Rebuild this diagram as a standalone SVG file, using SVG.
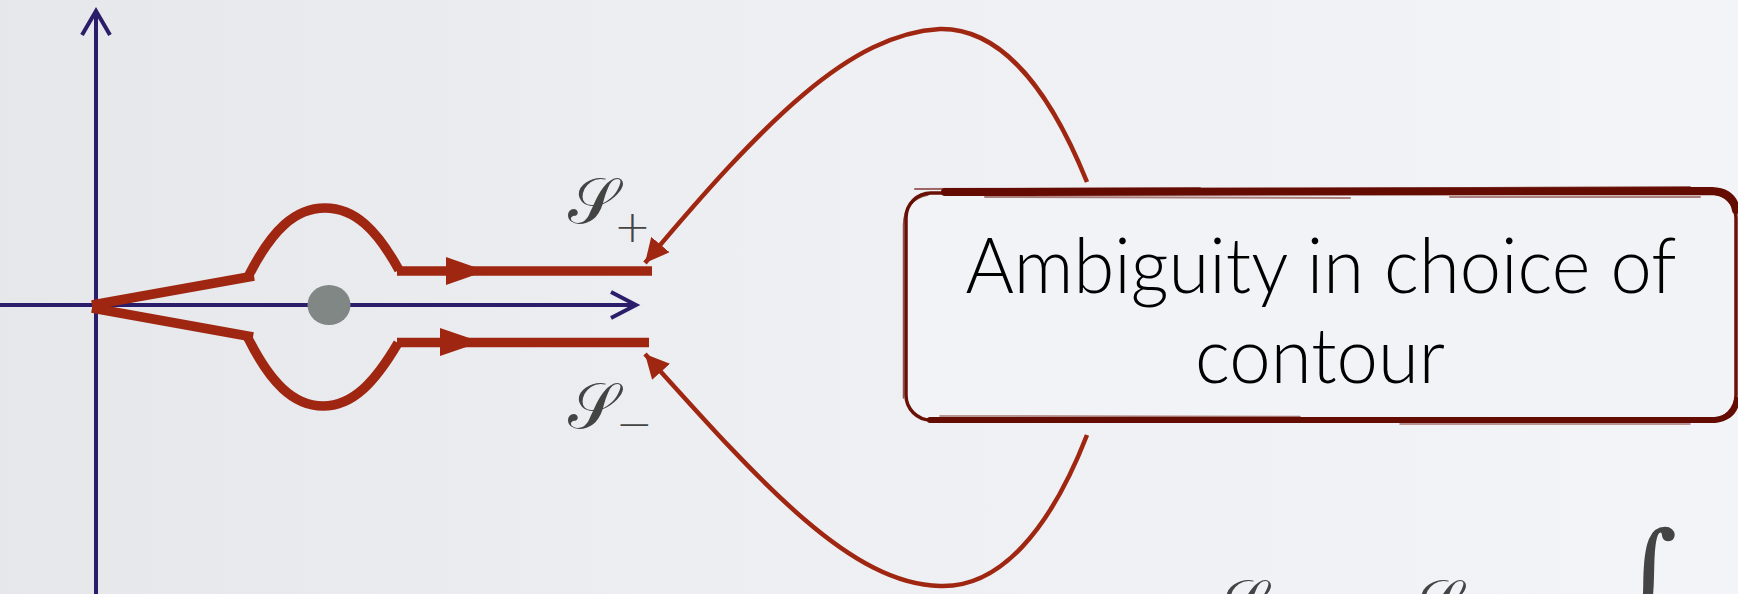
<svg xmlns="http://www.w3.org/2000/svg" width="1738" height="594" viewBox="0 0 1738 594">
  <defs>
    <linearGradient id="bg" x1="0" y1="0" x2="1" y2="0">
      <stop offset="0" stop-color="#e5e7eb"/>
      <stop offset="0.45" stop-color="#eeeff3"/>
      <stop offset="1" stop-color="#f3f4f8"/>
    </linearGradient>
    <marker id="connArrow" markerUnits="userSpaceOnUse" viewBox="0 0 24 24" refX="24" refY="12" markerWidth="24" markerHeight="24" orient="auto">
      <path d="M0,0 L24,12 L0,24 z" fill="#9f2711"/>
    </marker>
    <style>
      .axis { fill: none; stroke: #2c1d6b; stroke-width: 4; }
      .contour { fill: none; stroke: #9f2711; stroke-width: 9.5; stroke-linecap: butt; }
      .contourHead { fill: #9f2711; }
      .conn { fill: none; stroke: #9f2711; stroke-width: 4.5; }
      .lbl { font-family: "DejaVu Serif", "DejaVu Sans", "Noto Sans", serif; fill: #444444; }
      .sub { font-family: "DejaVu Sans", "Noto Sans", sans-serif; font-weight: 300; fill: #444444; }
      .boxText { font-family: Lato, "Open Sans", "Noto Sans", sans-serif; font-weight: 300; font-size: 76px; fill: #000000; text-anchor: middle; }
      .brush { fill: none; stroke: #640b02; stroke-linecap: round; }
    </style>
  </defs>

  <rect x="0" y="0" width="1738" height="594" fill="url(#bg)"/>

  <g id="plot">
    <g id="axes">
      <line class="axis" x1="96" y1="594" x2="96" y2="12"/>
      <polyline class="axis" points="82,35 96,11 110,35"/>
      <line class="axis" x1="0" y1="305" x2="634" y2="305"/>
      <polyline class="axis" points="611,292 636,305 611,318"/>
    </g>
    <ellipse id="pole" cx="329" cy="305" rx="21.5" ry="20" fill="#808784"/>
    <g id="contour-upper">
      <path class="contour" d="M92,305 L254,276"/>
      <path class="contour" d="M249,275 C272,230 295,208 325,208 C355,208 377,230 399,270"/>
      <path class="contour" d="M397,271 L652,271"/>
      <polygon class="contourHead" points="446,257 486,271 446,285"/>
    </g>
    <g id="contour-lower">
      <path class="contour" d="M92,308 L253,337"/>
      <path class="contour" d="M248,338 C270,382 293,406 323,406 C353,406 375,382 398,343"/>
      <path class="contour" d="M397,342.5 L649,342.5"/>
      <polygon class="contourHead" points="440,328 481,342 440,356"/>
    </g>
  </g>

  <g id="label-splus">
    <text class="lbl" x="568" y="223" font-size="64">𝒮</text>
    <text class="sub" x="614" y="242" font-size="44">+</text>
  </g>
  <g id="label-sminus">
    <text class="lbl" x="568" y="428" font-size="64">𝒮</text>
    <text class="sub" x="616" y="439" font-size="44">−</text>
  </g>

  <g id="connectors">
    <path class="conn" d="M1087,182 C1045,78 995,28 940,29 C850,34 765,120 645,263" marker-end="url(#connArrow)"/>
    <path class="conn" d="M1087,435 C1050,530 1000,588 940,586 C850,584 760,482 645,354" marker-end="url(#connArrow)"/>
  </g>

  <g id="box-ambiguity">
    <rect x="906" y="193" width="830" height="227" rx="25" fill="#f2f3f7" stroke="#6a1107" stroke-width="3.5"/>
    <path class="brush" d="M903.5,398 L903.5,225 Q904,200 928,195" stroke-width="1.5" opacity="0.7"/>
    <path class="brush" d="M945,192 L1712,191 Q1733,192 1736,210" stroke-width="8"/>
    <path class="brush" d="M915,189 L1200,188 M1300,189 L1690,187" stroke-width="2" opacity="0.6"/>
    <path class="brush" d="M985,197 L1350,198 M1450,197 L1700,197" stroke-width="2" opacity="0.5"/>
    <path class="brush" d="M930,420 L1715,420 Q1734,418 1737,400" stroke-width="6"/>
    <path class="brush" d="M940,416 L1300,416.5 M1400,424 L1690,424" stroke-width="1.5" opacity="0.55"/>
    <text class="boxText" x="1321" y="293" textLength="711" lengthAdjust="spacingAndGlyphs">Ambiguity in choice of</text>
    <text class="boxText" x="1320" y="383" textLength="250" lengthAdjust="spacingAndGlyphs">contour</text>
  </g>

  <g id="formula">
    <text class="lbl" x="1216" y="625" font-size="64">𝒮</text>
    <text class="lbl" x="1411" y="625" font-size="64">𝒮</text>
    <text class="lbl" x="1620" y="610" font-size="110" font-style="italic">∫</text>
  </g>
</svg>
